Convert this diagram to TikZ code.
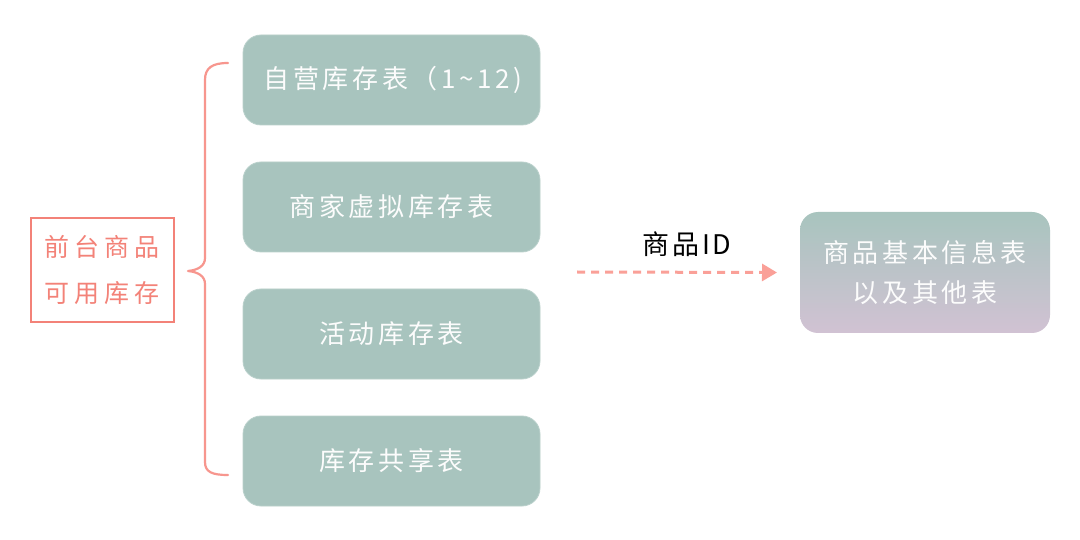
\documentclass[tikz,border=0pt]{standalone}
\usepackage{fontspec}
\setmainfont{Noto Sans CJK SC}
\usetikzlibrary{arrows.meta}
\definecolor{teal}{RGB}{168,196,190}
\definecolor{lav}{RGB}{209,194,211}
\definecolor{salmon}{RGB}{243,130,120}
\definecolor{salmonl}{RGB}{247,150,142}
\definecolor{arrowc}{RGB}{250,160,152}
\definecolor{txtw}{RGB}{252,252,252}
\tikzset{
  tbox/.style={fill=teal, draw=teal!80!white, line width=0.8pt, rounded corners=18pt,
    minimum width=297pt, minimum height=90pt, text=txtw,
    font=\fontsize{26}{32}\selectfont\addfontfeature{LetterSpace=14}, inner sep=0pt},
  gbox/.style={top color=teal, bottom color=lav, rounded corners=18pt, draw=none,
    minimum width=250pt, minimum height=121pt, text=txtw,
    font=\fontsize{26}{40}\selectfont\addfontfeature{LetterSpace=14},
    align=center, inner sep=0pt},
  rbox/.style={draw=salmon, line width=2.4pt, minimum width=143pt, minimum height=104pt,
    text=salmon, font=\fontsize{25}{46}\selectfont\addfontfeature{LetterSpace=20}, align=center, inner sep=0pt},
  lbl/.style={font=\fontsize{27}{30}\selectfont\addfontfeature{LetterSpace=10}, text=black, inner sep=0pt},
  dasharrow/.style={draw=arrowc, line width=3pt, dash pattern=on 8pt off 6pt,
    -{Triangle[length=15pt,width=17pt,fill=arrowc]}},
  bracel/.style={draw=salmonl, line width=2.2pt, line cap=round, line join=round}
}
\begin{document}
\begin{tikzpicture}[x=1pt,y=-1pt]
\useasboundingbox[fill=white] (0,0) rectangle (1080,540);
\node[tbox] (b1) at (391.5,80) {\hspace*{3pt}自营库存表（1\textasciitilde12)};
\node[tbox] (b2) at (391.5,207) {商家虚拟库存表};
\node[tbox] (b3) at (391.5,334) {活动库存表};
\node[tbox] (b4) at (391.5,461) {库存共享表};
\node[rbox] (src) at (102.5,270) {前台商品\\可用库存};
\node[gbox] (dst) at (925,272.5) {商品基本信息表\\以及其他表};
% brace
\coordinate (bt) at (228,63);
\coordinate (bb) at (228,475);
\coordinate (bm) at (188,271);
\draw[bracel] (bt) .. controls (212,63) and (205,68) .. (205,80)
  -- (205,258) .. controls (205,266) and (198,270) .. (bm)
  .. controls (198,272) and (205,276) .. (205,284)
  -- (205,462) .. controls (205,472) and (212,475) .. (bb);
% arrow
\coordinate (as) at (577,272);
\node[lbl] (lab) at (687,244) {商品ID};
\draw[dasharrow] (as) -- (dst.west -| 777,0);
\end{tikzpicture}
\end{document}
